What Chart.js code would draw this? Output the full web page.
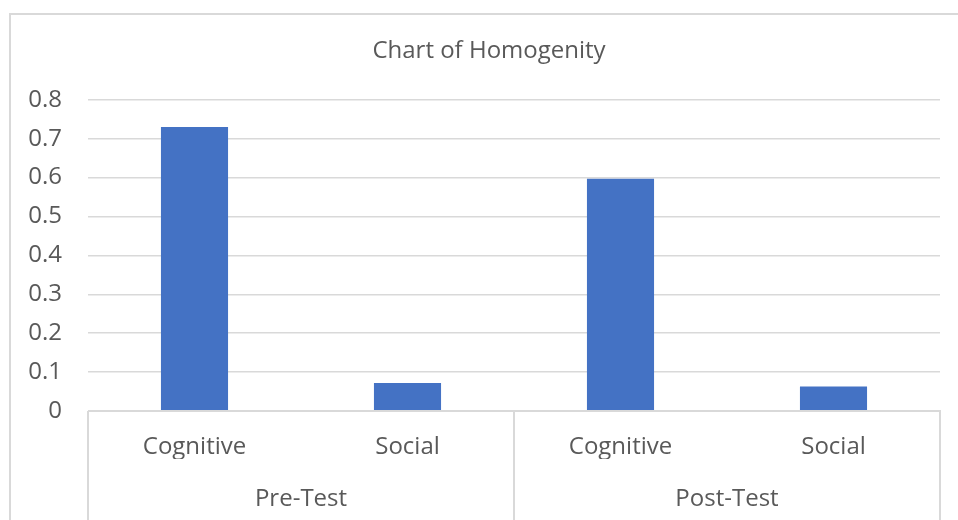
<!DOCTYPE html>
<html>
<head>
<meta charset="utf-8">
<script src="https://cdn.jsdelivr.net/npm/chart.js@4/dist/chart.umd.min.js"></script>
<style>
  html, body { margin: 0; padding: 0; background: #ffffff; }
  #wrap { position: relative; width: 958px; height: 520px; overflow: hidden; }
  #frame { position: absolute; left: 9px; top: 13px; width: 960px; height: 520px;
           border-left: 2px solid #d9d9d9; border-top: 2px solid #d9d9d9; box-sizing: border-box; }
  #c { position: absolute; left: 0; top: 0; }
</style>
</head>
<body>
<div id="wrap">
  <div id="frame"></div>
  <canvas id="c" width="958" height="520"></canvas>
</div>
<script>
const titleText = 'Chart of Homogenity';
const categories = ['Cognitive', 'Social', 'Cognitive', 'Social'];
const groups = ['Pre-Test', 'Post-Test'];
const values = [0.73, 0.072, 0.597, 0.063];
const yMin = 0;
const yMax = 0.8;
const yStep = 0.1;

const textColor = '#595959';
const lineColor = '#d9d9d9';
const barColor = '#4472C4';
const fontFamily = '"Open Sans", "DejaVu Sans", sans-serif';

const separators = {
  id: 'separators',
  afterDraw(chart) {
    const x = chart.scales.x;
    const area = chart.chartArea;
    const ctx = chart.ctx;
    const n = categories.length;
    const perGroup = n / groups.length;
    const xs = [x.left];
    for (let g = 1; g < groups.length; g++) {
      const i = g * perGroup;
      xs.push((x.getPixelForValue(i - 1) + x.getPixelForValue(i)) / 2);
    }
    xs.push(x.right);
    ctx.save();
    ctx.strokeStyle = lineColor;
    ctx.lineWidth = 2;
    ctx.beginPath();
    xs.forEach(px => {
      ctx.moveTo(Math.round(px), area.bottom);
      ctx.lineTo(Math.round(px), chart.height);
    });
    ctx.moveTo(x.left, area.bottom);
    ctx.lineTo(x.right + 1, area.bottom);
    ctx.stroke();
    ctx.restore();
  }
};

new Chart(document.getElementById('c'), {
  type: 'bar',
  data: {
    labels: categories,
    datasets: [{
      data: values,
      backgroundColor: barColor,
      borderWidth: 0,
      categoryPercentage: 1.0,
      barPercentage: 0.315
    }]
  },
  options: {
    responsive: false,
    animation: false,
    layout: { padding: { left: 26, right: 6, top: 0, bottom: 0 } },
    plugins: {
      legend: { display: false },
      tooltip: { enabled: false },
      title: {
        display: true,
        text: titleText,
        color: textColor,
        font: { family: fontFamily, size: 24, weight: 'normal' },
        padding: { top: 37, bottom: 34 }
      }
    },
    scales: {
      y: {
        min: yMin,
        max: yMax,
        afterFit(s) { s.width = 62; },
        ticks: {
          stepSize: yStep,
          color: textColor,
          font: { family: fontFamily, size: 24 },
          padding: 26,
          callback: v => (Math.round(v * 10) / 10).toString()
        },
        grid: { color: lineColor, lineWidth: 1.5, drawTicks: false },
        border: { display: false }
      },
      yRight: {
        position: 'right',
        display: true,
        min: yMin,
        max: yMax,
        afterFit(s) { s.width = 12; },
        ticks: { display: false },
        grid: { display: false, drawTicks: false },
        border: { display: false }
      },
      x: {
        afterFit(s) { s.height = 48; },
        ticks: {
          color: textColor,
          font: { family: fontFamily, size: 24 },
          padding: 22,
          maxRotation: 0
        },
        grid: { display: false, drawTicks: false },
        border: { display: false }
      },
      x2: {
        type: 'category',
        position: 'bottom',
        labels: groups,
        offset: true,
        afterFit(s) { s.height = 61; },
        ticks: {
          color: textColor,
          font: { family: fontFamily, size: 24 },
          padding: 26,
          maxRotation: 0
        },
        grid: { display: false, drawTicks: false },
        border: { display: false }
      }
    }
  },
  plugins: [separators]
});
</script>
</body>
</html>
